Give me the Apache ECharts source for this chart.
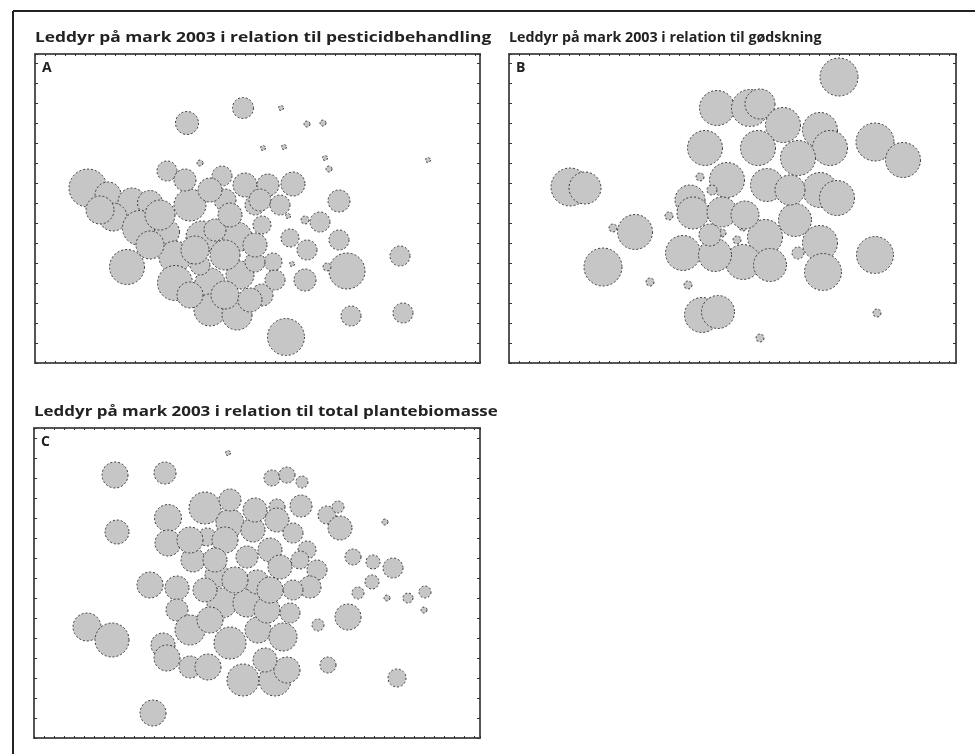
<!DOCTYPE html>
<html>
<head>
<meta charset="utf-8">
<script src="https://cdn.jsdelivr.net/npm/echarts@6/dist/echarts.min.js"></script>
<style>
html,body{margin:0;padding:0;background:#fff}
#chart{width:975px;height:754px}
</style>
</head>
<body>
<div id="chart"></div>
<script>
// x, y, bubble size (same units as the axes)
var pestData = [
	[41.6,51,4.2],[30.4,48,4.6],[26.4,38.4,4],[49.2,51,1],[54.4,47.8,1.2],[57.6,48,1.2],
	[45.6,43,1],[49.8,43.2,1],[58,41,1],[58.8,38.8,1.2],[78.6,40.6,1],[33,40,1.2],
	[10.6,35,7.6],[14.6,33.6,5.2],[19.4,32.2,5.6],[23,32,5],[31,31.6,6.4],[37.4,37.4,4],
	[42,35.6,4.8],[46.6,35.6,4.4],[51.6,35.8,4.8],[38,32.6,4.4],[44,31.6,4],[15.6,29.2,5.6],
	[21,27,7],[26.4,26.2,5],[33.4,25.2,6.4],[40.4,25.2,6],[45.4,27.6,3.6],[50.6,29.4,1],
	[54,28.6,1.6],[57,28.2,4],[51,25,3.6],[54.4,22.6,4],[60.8,24.6,4],[60.8,32.4,4.4],
	[47.6,20.2,3.6],[51.4,19.8,1],[54,16.6,4.4],[62.4,18.4,7.2],[58.4,19.2,1.6],[73,21.4,4],
	[63.2,9.4,4],[73.6,10,4],[50.2,5.2,7.4],[18.4,19.2,7],[28,21.2,6.4],[28,16,7],
	[35,16,6],[41,17.6,5.6],[35,10.6,6.4],[40.4,9.6,6],[44,20.2,4],[45.4,13.6,4.4],
	[33,19.6,4],[36,26.6,4.4],[13,30.6,5.6],[25,29.6,6],[30,36.6,4.4],[35,34.6,4.8],
	[45,32.6,4.4],[49,31.6,4],[32,22.6,5.6],[38,21.6,6],[44,23.6,4.8],[23,23.6,5.6],
	[38,13.6,5.6],[43,12.6,4.8],[31,13.6,5.2],[48,16.6,4],[39,29.6,4.8]
];
var goedData = [
	[12.2,35.2,7.6],[15.2,35,6.4],[41.6,51,7],[48.2,51,7.4],[50.2,51.8,6],[39.2,43,7],
	[66,57.2,7.6],[54.8,47.6,7],[62.2,46.6,7],[64.2,43,7],[49.8,43,7],[57.8,41,7],
	[73.2,44.2,7.6],[78.8,40.6,7],[43.6,36.6,7],[38.2,37.2,1.6],[36.2,32.6,6],[51.6,35.6,6.6],
	[62.2,34.6,7],[65.6,33,7],[57.2,28.6,6.6],[51.2,25.2,7],[46.8,20.2,7],[52.2,19.6,6.6],
	[62.2,24,7],[62.8,18.2,7.4],[73.2,21.6,7.4],[73.6,10,1.6],[50.2,5,1.6],[57.8,22,2.4],
	[46.8,27.2,1.6],[45.6,24.6,1.6],[25.2,26.2,7],[20.8,27,1.6],[18.8,19.2,7.6],[28.2,16.2,1.6],
	[35.8,15.6,1.6],[38.6,9.6,7],[41.8,10.2,6.6],[34.8,22,7],[41.2,21.6,6.6],[36.8,30,6.4],
	[42.6,30.2,6],[32,29.4,1.6],[42.6,26,1.6],[40.6,34.6,2],[47.2,29.6,5.6],[56.2,34.6,6],
	[40.2,25.6,4.4]
];
var plantData = [
	[16.2,52.6,5.2],[26.2,53,4.4],[38.8,57,1],[16.6,41.2,4.8],[26.8,44,5.4],[34.2,46,6.4],
	[26.8,39,5.2],[31.8,35.6,4.8],[39.2,43,5.6],[34.6,40.2,3.6],[47.6,52,3.2],[50.6,52.6,3.2],
	[53.6,51.2,2.4],[53.4,46.4,4.4],[48.6,46.2,3.2],[58.6,44.6,3.6],[60.8,46.2,2.4],[61.2,42,4.8],
	[70.2,43.2,1.2],[63.8,36.2,3.2],[67.8,35.2,2.8],[71.8,34,4],[48.6,43.6,4.8],[43.8,41.6,4.8],
	[51.8,41,4],[54.6,37.6,3.6],[47.2,37.6,4.8],[49.2,34.2,4.8],[56.6,33.6,4],[42.6,36.2,4.4],
	[23.2,30.6,5.2],[28.6,30,4.8],[28.6,25.6,4.4],[31.2,21.6,6],[10.6,22.2,5.6],[15.6,19.6,6.8],
	[25.8,18.6,4.8],[26.6,16,5.2],[31.2,14.2,4.4],[34.8,14.2,5.2],[39.2,19,6.4],[44.8,21.6,5.2],
	[49.8,20.2,5.6],[37.6,27,6],[42.6,27,5.6],[46.6,25.6,5.2],[51.2,25,4],[41.8,11.6,6.4],
	[48.2,11.6,6.4],[50.6,13.6,5.2],[58.8,14.6,3.2],[62.8,24.2,5.2],[56.8,22.6,2.4],[72.6,12,3.6],
	[23.8,5,5.2],[64.8,29,2.4],[67.6,31.2,2.8],[70.6,28,1.2],[74.8,28,2],[78.2,29.2,2.4],
	[78,25.6,1.2],[55.2,30.2,4.4],[51.8,29.6,4],[44.6,31.2,4.8],[36.6,32.6,4.8],[38.2,39.6,5.2],
	[40.2,31.6,5.2],[34.2,29.6,4.8],[47.2,29.6,5.2],[31.2,39.6,5.2],[36.2,35.6,4.8],[44.2,45.6,4.8],
	[39.2,47.6,4.4],[53.2,35.6,3.6],[35.2,23.6,5.2],[46.2,15.6,4.8]
];
var titles = [
	'Leddyr på mark 2003 i relation til pesticidbehandling',
	'Leddyr på mark 2003 i relation til gødskning',
	'Leddyr på mark 2003 i relation til total plantebiomasse'
];
// the printed titles are set with different horizontal widths
var titleStretch = [1.24, 1.02, 1.21];
var panelLabels = ['A', 'B', 'C'];

var pxPerUnit = 5;
var font = '"Open Sans", "Noto Sans", sans-serif';

var grids = [
	{left: 35, top: 54, width: 445, height: 309, xMax: 89, yMax: 61.8},
	{left: 509, top: 54, width: 447, height: 309, xMax: 89.4, yMax: 61.8},
	{left: 34, top: 428, width: 446, height: 310, xMax: 89.2, yMax: 62}
];
var panelData = [pestData, goedData, plantData];

var chart = echarts.init(document.getElementById('chart'));

var frameLine = {show: true, onZero: false, lineStyle: {color: '#555', width: 2}};
var tickX = {show: true, inside: true, length: 2, lineStyle: {color: '#333'}};
var tickY = {show: true, inside: true, length: 3, lineStyle: {color: '#333'}};

var option = {
	backgroundColor: '#fff',
	animation: false,
	grid: [],
	xAxis: [],
	yAxis: [],
	series: [],
	graphic: [
		{type: 'line', shape: {x1: 13, y1: 11, x2: 975, y2: 11}, style: {stroke: '#222', lineWidth: 2}},
		{type: 'line', shape: {x1: 13, y1: 11, x2: 13, y2: 754}, style: {stroke: '#222', lineWidth: 2}}
	]
};

grids.forEach(function (g, i) {
	option.grid.push({left: g.left, top: g.top, width: g.width, height: g.height, containLabel: false});
	['bottom', 'top'].forEach(function (pos) {
		option.xAxis.push({
			gridIndex: i, type: 'value', position: pos, min: 0, max: g.xMax, interval: 2,
			axisLine: frameLine, axisTick: tickX, axisLabel: {show: false}, splitLine: {show: false}
		});
	});
	['left', 'right'].forEach(function (pos) {
		option.yAxis.push({
			gridIndex: i, type: 'value', position: pos, min: 0, max: g.yMax, interval: 4,
			axisLine: frameLine, axisTick: tickY, axisLabel: {show: false}, splitLine: {show: false}
		});
	});
	option.series.push({
		type: 'scatter',
		xAxisIndex: i * 2,
		yAxisIndex: i * 2,
		data: panelData[i],
		symbol: 'circle',
		symbolSize: function (v) { return v[2] * pxPerUnit; },
		itemStyle: {
			color: '#c6c6c6',
			borderColor: '#3a3a3a',
			borderWidth: 1,
			borderType: [2, 2],
			opacity: 1
		},
		emphasis: {disabled: true}
	});
	option.graphic.push({
		type: 'text',
		x: g.left,
		y: g.top - 23,
		scaleX: titleStretch[i],
		style: {text: titles[i], font: 'bold 14px ' + font, fill: '#222', align: 'left', verticalAlign: 'top'}
	});
	option.graphic.push({
		type: 'text',
		x: g.left + 7,
		y: g.top + 7,
		style: {text: panelLabels[i], font: 'bold 14px ' + font, fill: '#222', align: 'left', verticalAlign: 'top'}
	});
});

chart.setOption(option);
</script>
</body>
</html>
